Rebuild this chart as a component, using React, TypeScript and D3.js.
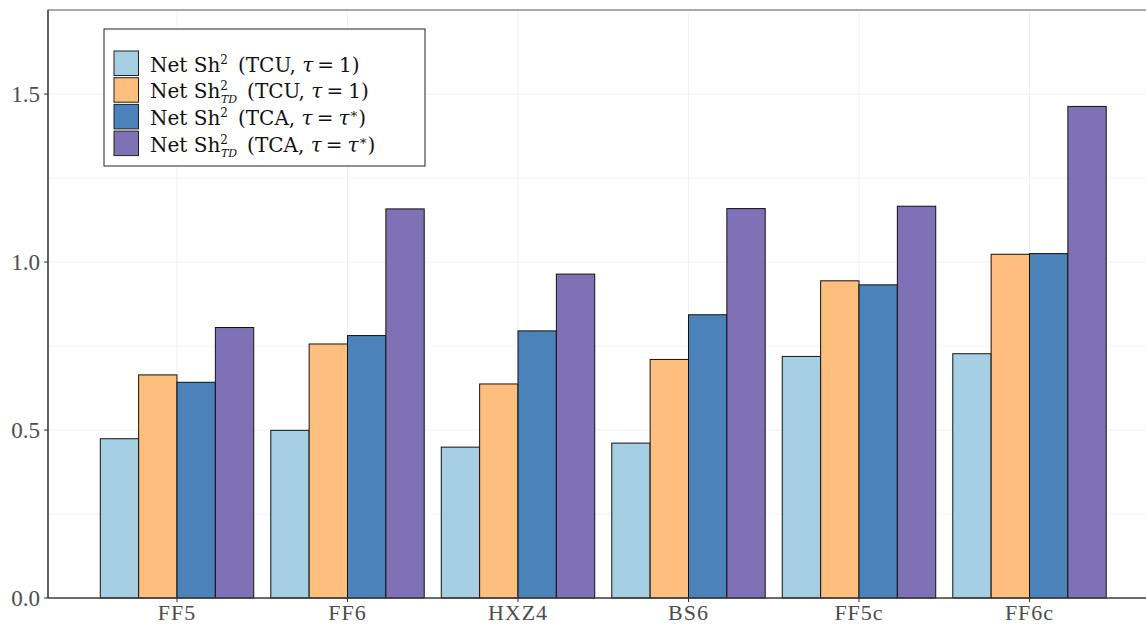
import React from "react";
import * as d3 from "d3";

const categories = ["FF5", "FF6", "HXZ4", "BS6", "FF5c", "FF6c"];
const seriesKeys = ["tcuSh", "tcuShTD", "tcaSh", "tcaShTD"];
const tcuSh = [0.474, 0.499, 0.449, 0.461, 0.719, 0.727];
const tcuShTD = [0.664, 0.756, 0.637, 0.710, 0.944, 1.023];
const tcaSh = [0.642, 0.781, 0.795, 0.843, 0.932, 1.025];
const tcaShTD = [0.805, 1.158, 0.964, 1.159, 1.166, 1.463];
const seriesValues = [tcuSh, tcuShTD, tcaSh, tcaShTD];
const seriesColors = ["#a6cfe3", "#fdbe7e", "#4c82ba", "#7f71b5"];
const yTicks = [0, 0.5, 1.0, 1.5];
const yMinor = [0.25, 0.75, 1.25];

const W = 1146, H = 626;
const left = 48, top = 10, bottom = 598;
const fontFam = "'Liberation Serif', 'DejaVu Serif', serif";
const legendFont = "'DejaVu Serif', 'Liberation Serif', serif";

export default function App() {
  const step = 170.5;
  const firstCenter = 177;
  const x = d3.scaleBand<string>()
    .domain(categories)
    .range([firstCenter - step / 2, firstCenter - step / 2 + step * categories.length])
    .paddingInner(0).paddingOuter(0);
  const xs = d3.scaleBand<string>().domain(seriesKeys).range([0, x.bandwidth() * 0.9]);
  const y = d3.scaleLinear().domain([0, 1.75]).range([bottom, top]);
  const groupOffset = x.bandwidth() * 0.05;

  const legendItems = [
    { td: false, grp: "TCU", star: false },
    { td: true, grp: "TCU", star: false },
    { td: false, grp: "TCA", star: true },
    { td: true, grp: "TCA", star: true },
  ];

  return (
    <svg width={W} height={H} style={{ position: "absolute", left: 0, top: 0 }}
      fontFamily={fontFam}>
      <rect x={0} y={0} width={W} height={H} fill="#fff" />
      <g>
        {yMinor.map((v) => (
          <line key={"mn" + v} x1={left} x2={W} y1={y(v)} y2={y(v)} stroke="#f4f4f4" strokeWidth={1} />
        ))}
        {yTicks.map((v) => (
          <line key={"mj" + v} x1={left} x2={W} y1={y(v)} y2={y(v)} stroke="#efefef" strokeWidth={1} />
        ))}
        {categories.map((c) => (
          <line key={"vg" + c} x1={x(c)! + x.bandwidth() / 2} x2={x(c)! + x.bandwidth() / 2}
            y1={top} y2={bottom} stroke="#f0f0f0" strokeWidth={1} />
        ))}
      </g>
      <g>
        {categories.map((c, i) => (
          <g key={c} transform={`translate(${x(c)! + groupOffset},0)`}>
            {seriesKeys.map((k, j) => (
              <rect key={k} x={xs(k)} y={y(seriesValues[j][i])} width={xs.bandwidth()}
                height={y(0) - y(seriesValues[j][i])} fill={seriesColors[j]}
                stroke="#111" strokeWidth={1} />
            ))}
          </g>
        ))}
      </g>
      {/* panel border */}
      <rect x={left} y={top} width={W - left + 10} height={bottom - top} fill="none" stroke="#555" strokeWidth={1} />
      <line x1={left} x2={left} y1={top} y2={bottom} stroke="#333" strokeWidth={1.2} />
      <line x1={left} x2={W} y1={bottom} y2={bottom} stroke="#333" strokeWidth={1.2} />
      {/* y axis */}
      {yTicks.map((v) => (
        <g key={"yt" + v}>
          <line x1={left - 4} x2={left} y1={y(v)} y2={y(v)} stroke="#333" strokeWidth={1} />
          <text x={left - 8} y={y(v)} dy="0.34em" textAnchor="end" fontSize={23} fill="#4d4d4d">
            {d3.format(".1f")(v)}
          </text>
        </g>
      ))}
      {/* x axis */}
      {categories.map((c) => (
        <g key={"xt" + c}>
          <line x1={x(c)! + x.bandwidth() / 2} x2={x(c)! + x.bandwidth() / 2} y1={bottom} y2={bottom + 4}
            stroke="#333" strokeWidth={1} />
          <text x={x(c)! + x.bandwidth() / 2} y={620} textAnchor="middle" fontSize={22}
            letterSpacing={1} fill="#4d4d4d">
            {c}
          </text>
        </g>
      ))}
      {/* legend */}
      <g fontFamily={legendFont}>
        <rect x={104} y={29} width={321} height={137} fill="#fff" stroke="#222" strokeWidth={1} />
        {legendItems.map((it, i) => {
          const ry = 51 + i * 26.7;
          return (
            <g key={i}>
              <rect x={114} y={ry} width={24.5} height={24.5} fill={seriesColors[i]} stroke="#222" strokeWidth={1} />
              <text x={150} y={ry + 20.5} fontSize={20} fill="#111">
                <tspan>Net Sh</tspan>
                <tspan fontSize={12} dy={-8}>2</tspan>
                {it.td ? (
                  <tspan fontSize={11} fontStyle="italic" dx={-7} dy={13}>TD</tspan>
                ) : null}
                <tspan dy={it.td ? -5 : 8} dx={10}>(</tspan>
                <tspan>{it.grp}, </tspan>
                <tspan fontStyle="italic">τ</tspan>
                <tspan dx={4}>=</tspan>
                {it.star ? (
                  <>
                    <tspan fontStyle="italic" dx={5}>τ</tspan>
                    <tspan fontSize={13} dy={-7}>∗</tspan>
                    <tspan dy={7}>)</tspan>
                  </>
                ) : (
                  <tspan dx={5}>1)</tspan>
                )}
              </text>
            </g>
          );
        })}
      </g>
    </svg>
  );
}
